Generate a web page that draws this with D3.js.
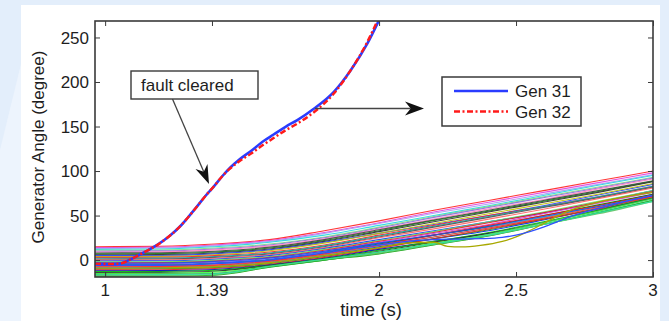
<!DOCTYPE html>
<html>
<head>
<meta charset="utf-8">
<script src="https://cdn.jsdelivr.net/npm/d3@7/dist/d3.min.js"></script>
<style>
  html, body { margin: 0; padding: 0; background: #e3eefb; }
  svg { display: block; }
  text { font-family: "Liberation Sans", Arial, Helvetica, sans-serif; fill: #1e1e1e; }
</style>
</head>
<body>
<svg id="chart" width="669" height="321"></svg>
<script>
// ---------------- DATA ----------------
const xTicks = [1, 1.39, 2, 2.5, 3];
const xTickLabels = ["1", "1.39", "2", "2.5", "3"];
const yTicks = [0, 50, 100, 150, 200, 250];

// time grid for the generator bundle
const bundleTime = [0.963, 1.2, 1.4, 1.6, 1.8, 2.0, 2.2, 2.4, 2.6, 2.8, 3.0];
const bundleColors = [
  "#ff2020", "#e040e0", "#a79cf0", "#20d8e0", "#7fdc7f", "#8a6ae0", "#ff80c0",
  "#404040", "#1e7a1e", "#303030", "#2040ff", "#c0c000", "#ff2020", "#00b0b0",
  "#505050", "#ff6060", "#1030ff", "#60e060", "#e02020", "#d040d0", "#2060ff",
  "#008000", "#ff1010", "#40d0d0", "#0020ff", "#20a020", "#e82020", "#0000c0",
  "#00c000", "#303030", "#40ff40", "#208020", "#80ffb0", "#00a000", "#60c060",
  "#2050e0", "#30e0a0", "#ff3030"
];
const bundleAngles = [
  [15, 15.5, 18, 23, 33, 44, 56, 67, 78, 89, 100],
  [14, 14.5, 17, 22, 31, 42, 54, 65, 76, 87, 98],
  [13, 13.5, 16, 21, 30, 41, 52.5, 63, 74, 85, 96],
  [12, 12.5, 15, 20, 28, 39, 50, 61, 72.5, 84, 95],
  [11, 11.3, 13.5, 18, 26, 37, 49, 60, 71, 82, 93],
  [10, 10.3, 12.5, 17, 25, 36, 48, 59, 70, 81, 92],
  [9, 9.3, 11.5, 16, 24, 35, 46, 57.5, 68, 80, 91],
  [8, 8.3, 10, 14.5, 23, 34, 45, 56, 67, 78, 89],
  [7, 7.2, 9, 13.5, 22, 33, 44.5, 55, 66, 77, 88.5],
  [6, 6.2, 8, 12.5, 21, 32, 43, 54, 65, 76, 88],
  [5, 5.2, 7, 11.5, 20, 30, 40, 50, 61, 73, 85],
  [4, 4.2, 6, 10.5, 19, 30, 41, 52, 63, 74, 86],
  [3, 3.2, 5, 9, 17, 28, 39, 50, 60, 71, 83],
  [2, 2.2, 4, 8, 16, 27, 38, 49, 60, 71, 83],
  [1, 1.2, 3, 7, 15, 26, 37, 48, 59, 70, 82],
  [0, 0.2, 2, 6, 14, 25, 35, 46, 57, 69, 81],
  [-1, -0.8, 1, 5, 13, 23, 33, 43, 53, 65, 78],
  [-2, -1.8, 0, 4, 12, 22, 32, 43, 54, 66, 78],
  [-3, -2.8, -1, 3, 11, 21, 31, 42, 53, 65, 77],
  [-4, -3.8, -2, 2, 10, 20, 30, 40, 52, 64, 76],
  [-5, -4.8, -3, 1, 9, 19, 28, 37, 48, 61, 74],
  [-6, -5.8, -4, 0, 8, 18, 28, 38, 50, 62, 74],
  [-7, -6.8, -5.5, -1, 7, 17, 28, 39, 50, 61, 73],
  [-8, -7.8, -6.5, -2, 6, 16, 26, 36, 48, 60, 72],
  [-9, -8.8, -7.5, -3, 5, 15, 24, 33, 45, 58, 72],
  [-10, -9.8, -8.5, -4, 4, 14, 24, 34, 46, 58, 71],
  [-11, -10.8, -9.5, -5, 3, 13, 24, 35, 46, 57, 70],
  [-12, -11.8, -10.5, -5.5, 2, 12, 21, 30, 42, 56, 70],
  [-13, -12.8, -11.5, -6, 1.5, 11, 21, 31, 43, 56, 70],
  [-14, -13.8, -12.5, -6.5, 1, 10, 20, 30, 42, 55, 69],
  [-15, -14.8, -13.5, -7, 0.5, 9, 19, 29, 42, 55, 69],
  [-16, -15.8, -15, -7.5, 0, 8.5, 18, 28, 41, 54, 68],
  [-17, -16.8, -16, -8, 0, 8, 18, 28, 41, 54, 68],
  [-18, -18, -17, -8, 0, 7, 17, 27, 40, 53, 67],
  [-17.5, -17.5, -16.5, -7.5, 0.5, 7.5, 17.5, 27.5, 40, 52, 66],
  [-3.5, -3.3, -1.5, 2.5, 10, 19, 28, 38, 49, 60, 72],
  [-16.5, -16.3, -15.5, -7, 1, 9, 18, 28, 40, 53, 66],
  [-7.5, -7.3, -6, -1.5, 6.5, 16.5, 26, 36, 47, 59, 71]
];

// generators with a local dip (finer time grid)
const dipTime = [0.963, 1.2, 1.4, 1.6, 1.8, 2.0, 2.1, 2.2, 2.25, 2.3, 2.37, 2.45, 2.5, 2.55, 2.6, 2.65, 2.7, 2.8, 2.9, 3.0];
const dipColors = ["#a8a800", "#3050ff"];
const dipAngles = [
  [-9, -8.8, -7.5, -3, 5, 14, 19, 20, 15.5, 14.8, 16.5, 21, 26, 33, 41, 49, 56, 65, 71, 76],
  [-6, -5.8, -4, 0, 8, 17, 21, 23, 23.5, 23.5, 24, 25.5, 28, 32, 37, 43, 49, 58, 66, 73]
];

// Gen 31 / Gen 32
const genTime = [0.963, 1.02, 1.06, 1.1, 1.15, 1.19, 1.235, 1.274, 1.3, 1.34, 1.366, 1.395, 1.43, 1.457, 1.49, 1.53, 1.58, 1.615, 1.66, 1.7, 1.762, 1.835, 1.896, 1.957, 2.01];
const gen31 = [-4, -4.5, -3.5, 2, 10, 17, 27, 38, 47, 62, 72, 82, 95, 104, 113, 122, 134, 141, 150, 157, 170, 189, 213, 243, 276];
const gen32 = [-4, -4.5, -3.5, 2, 10, 17, 27, 38, 47, 62, 72, 82, 95, 103, 111, 119, 130, 137, 146, 153, 166, 187, 213, 245, 280];

const legendLabels = ["Gen 31", "Gen 32"];
const xLabel = "time (s)";
const yLabel = "Generator Angle (degree)";
const annotationText = "fault cleared";

// ---------------- DRAW ----------------
const svg = d3.select("#chart");

// page background (slide-like)
svg.append("rect").attr("width", 669).attr("height", 321).attr("fill", "#e3eefb");
svg.append("path").attr("d", "M0,321 L0,150 L22,60 L22,321 Z").attr("fill", "#edf4fd");
svg.append("rect").attr("x", 21).attr("y", 5).attr("width", 639).attr("height", 316).attr("fill", "#ffffff");

const L = 95, R = 653, T = 21, B = 277;
const x = d3.scaleLinear().domain([0.963, 3.0]).range([L, R]);
const y = d3.scaleLinear().domain([-19, 268.5]).range([B, T]);

svg.append("clipPath").attr("id", "plotclip")
  .append("rect").attr("x", L).attr("y", T).attr("width", R - L).attr("height", B - T);

const plot = svg.append("g").attr("clip-path", "url(#plotclip)");

const mkLine = (times) => d3.line()
  .x((d, i) => x(times[i]))
  .y(d => y(d))
  .curve(d3.curveMonotoneX);

const bundleLine = mkLine(bundleTime);
bundleAngles.forEach((row, i) => {
  plot.append("path").attr("d", bundleLine(row))
    .attr("fill", "none").attr("stroke", bundleColors[i % bundleColors.length])
    .attr("stroke-width", 1.1).attr("stroke-opacity", 0.9);
});
const dipLine = mkLine(dipTime);
dipAngles.forEach((row, i) => {
  plot.append("path").attr("d", dipLine(row))
    .attr("fill", "none").attr("stroke", dipColors[i])
    .attr("stroke-width", 1.3);
});

const genLine = mkLine(genTime);
plot.append("path").attr("d", genLine(gen31))
  .attr("fill", "none").attr("stroke", "#2a3cff").attr("stroke-width", 2.6);
plot.append("path").attr("d", genLine(gen32))
  .attr("fill", "none").attr("stroke", "#ff1a1a").attr("stroke-width", 2.4)
  .attr("stroke-dasharray", "6,2.5,2,2.5");

// axes (MATLAB-like box with inward ticks)
const axG = svg.append("g");
const axisColor = "#3a3a3a";
const tickLen = 5;

const yAxisL = d3.axisRight(y).tickValues(yTicks).tickSize(tickLen).tickFormat("");
axG.append("g").attr("transform", `translate(${L},0)`).call(yAxisL);
const yAxisR = d3.axisLeft(y).tickValues(yTicks).tickSize(tickLen).tickFormat("");
axG.append("g").attr("transform", `translate(${R},0)`).call(yAxisR);
const xAxisB = d3.axisTop(x).tickValues(xTicks).tickSize(tickLen).tickFormat("");
axG.append("g").attr("transform", `translate(0,${B})`).call(xAxisB);
const xAxisT = d3.axisBottom(x).tickValues(xTicks).tickSize(tickLen).tickFormat("");
axG.append("g").attr("transform", `translate(0,${T})`).call(xAxisT);
axG.selectAll(".domain").remove();
axG.selectAll(".tick line").attr("stroke", axisColor).attr("stroke-width", 1);

axG.append("rect").attr("x", L).attr("y", T).attr("width", R - L).attr("height", B - T)
  .attr("fill", "none").attr("stroke", axisColor).attr("stroke-width", 1.6);

// tick labels
svg.append("g").selectAll("text").data(yTicks).join("text")
  .attr("x", L - 6).attr("y", d => y(d)).attr("dy", "0.36em")
  .attr("text-anchor", "end").attr("font-size", 17).text(d => d);
svg.append("g").selectAll("text").data(xTicks).join("text")
  .attr("x", d => x(d)).attr("y", 296)
  .attr("text-anchor", "middle").attr("font-size", 17).text((d, i) => xTickLabels[i]);

// axis titles
svg.append("text").attr("x", 371).attr("y", 316).attr("text-anchor", "middle")
  .attr("font-size", 18.5).text(xLabel);
svg.append("text").attr("transform", "translate(44,147) rotate(-90)")
  .attr("text-anchor", "middle").attr("font-size", 17).text(yLabel);

// legend
const lg = svg.append("g");
lg.append("rect").attr("x", 442).attr("y", 77).attr("width", 139).attr("height", 49)
  .attr("fill", "#fff").attr("stroke", "#3a3a3a").attr("stroke-width", 1.5);
lg.append("line").attr("x1", 454).attr("x2", 508).attr("y1", 91).attr("y2", 91)
  .attr("stroke", "#2a3cff").attr("stroke-width", 2.6);
lg.append("line").attr("x1", 454).attr("x2", 508).attr("y1", 111.5).attr("y2", 111.5)
  .attr("stroke", "#ff1a1a").attr("stroke-width", 2.4).attr("stroke-dasharray", "6,2.5,2,2.5");
lg.append("text").attr("x", 515).attr("y", 91).attr("dy", "0.36em").attr("font-size", 17).text(legendLabels[0]);
lg.append("text").attr("x", 515).attr("y", 111.5).attr("dy", "0.36em").attr("font-size", 17).text(legendLabels[1]);

// arrow helper (MATLAB vback2-like head)
function arrow(x1, y1, x2, y2, headLen, halfW) {
  const dx = x2 - x1, dy = y2 - y1, len = Math.hypot(dx, dy);
  const ux = dx / len, uy = dy / len, px = -uy, py = ux;
  const bx = x2 - ux * headLen, by = y2 - uy * headLen;
  const nx = x2 - ux * headLen * 0.7, ny = y2 - uy * headLen * 0.7;
  svg.append("line").attr("x1", x1).attr("y1", y1).attr("x2", nx).attr("y2", ny)
    .attr("stroke", "#444").attr("stroke-width", 1.3);
  svg.append("path")
    .attr("d", `M${x2},${y2} L${bx + px * halfW},${by + py * halfW} L${nx},${ny} L${bx - px * halfW},${by - py * halfW} Z`)
    .attr("fill", "#111");
}
arrow(315, 108.5, 424, 108.5, 19, 7);
arrow(172.5, 99, 209, 184, 19, 6.5);

// "fault cleared" annotation box
svg.append("rect").attr("x", 131).attr("y", 71).attr("width", 127).attr("height", 28)
  .attr("fill", "#fff").attr("stroke", "#3a3a3a").attr("stroke-width", 1.4);
svg.append("text").attr("x", 141).attr("y", 85).attr("dy", "0.36em")
  .attr("font-size", 17).text(annotationText);
</script>
</body>
</html>
